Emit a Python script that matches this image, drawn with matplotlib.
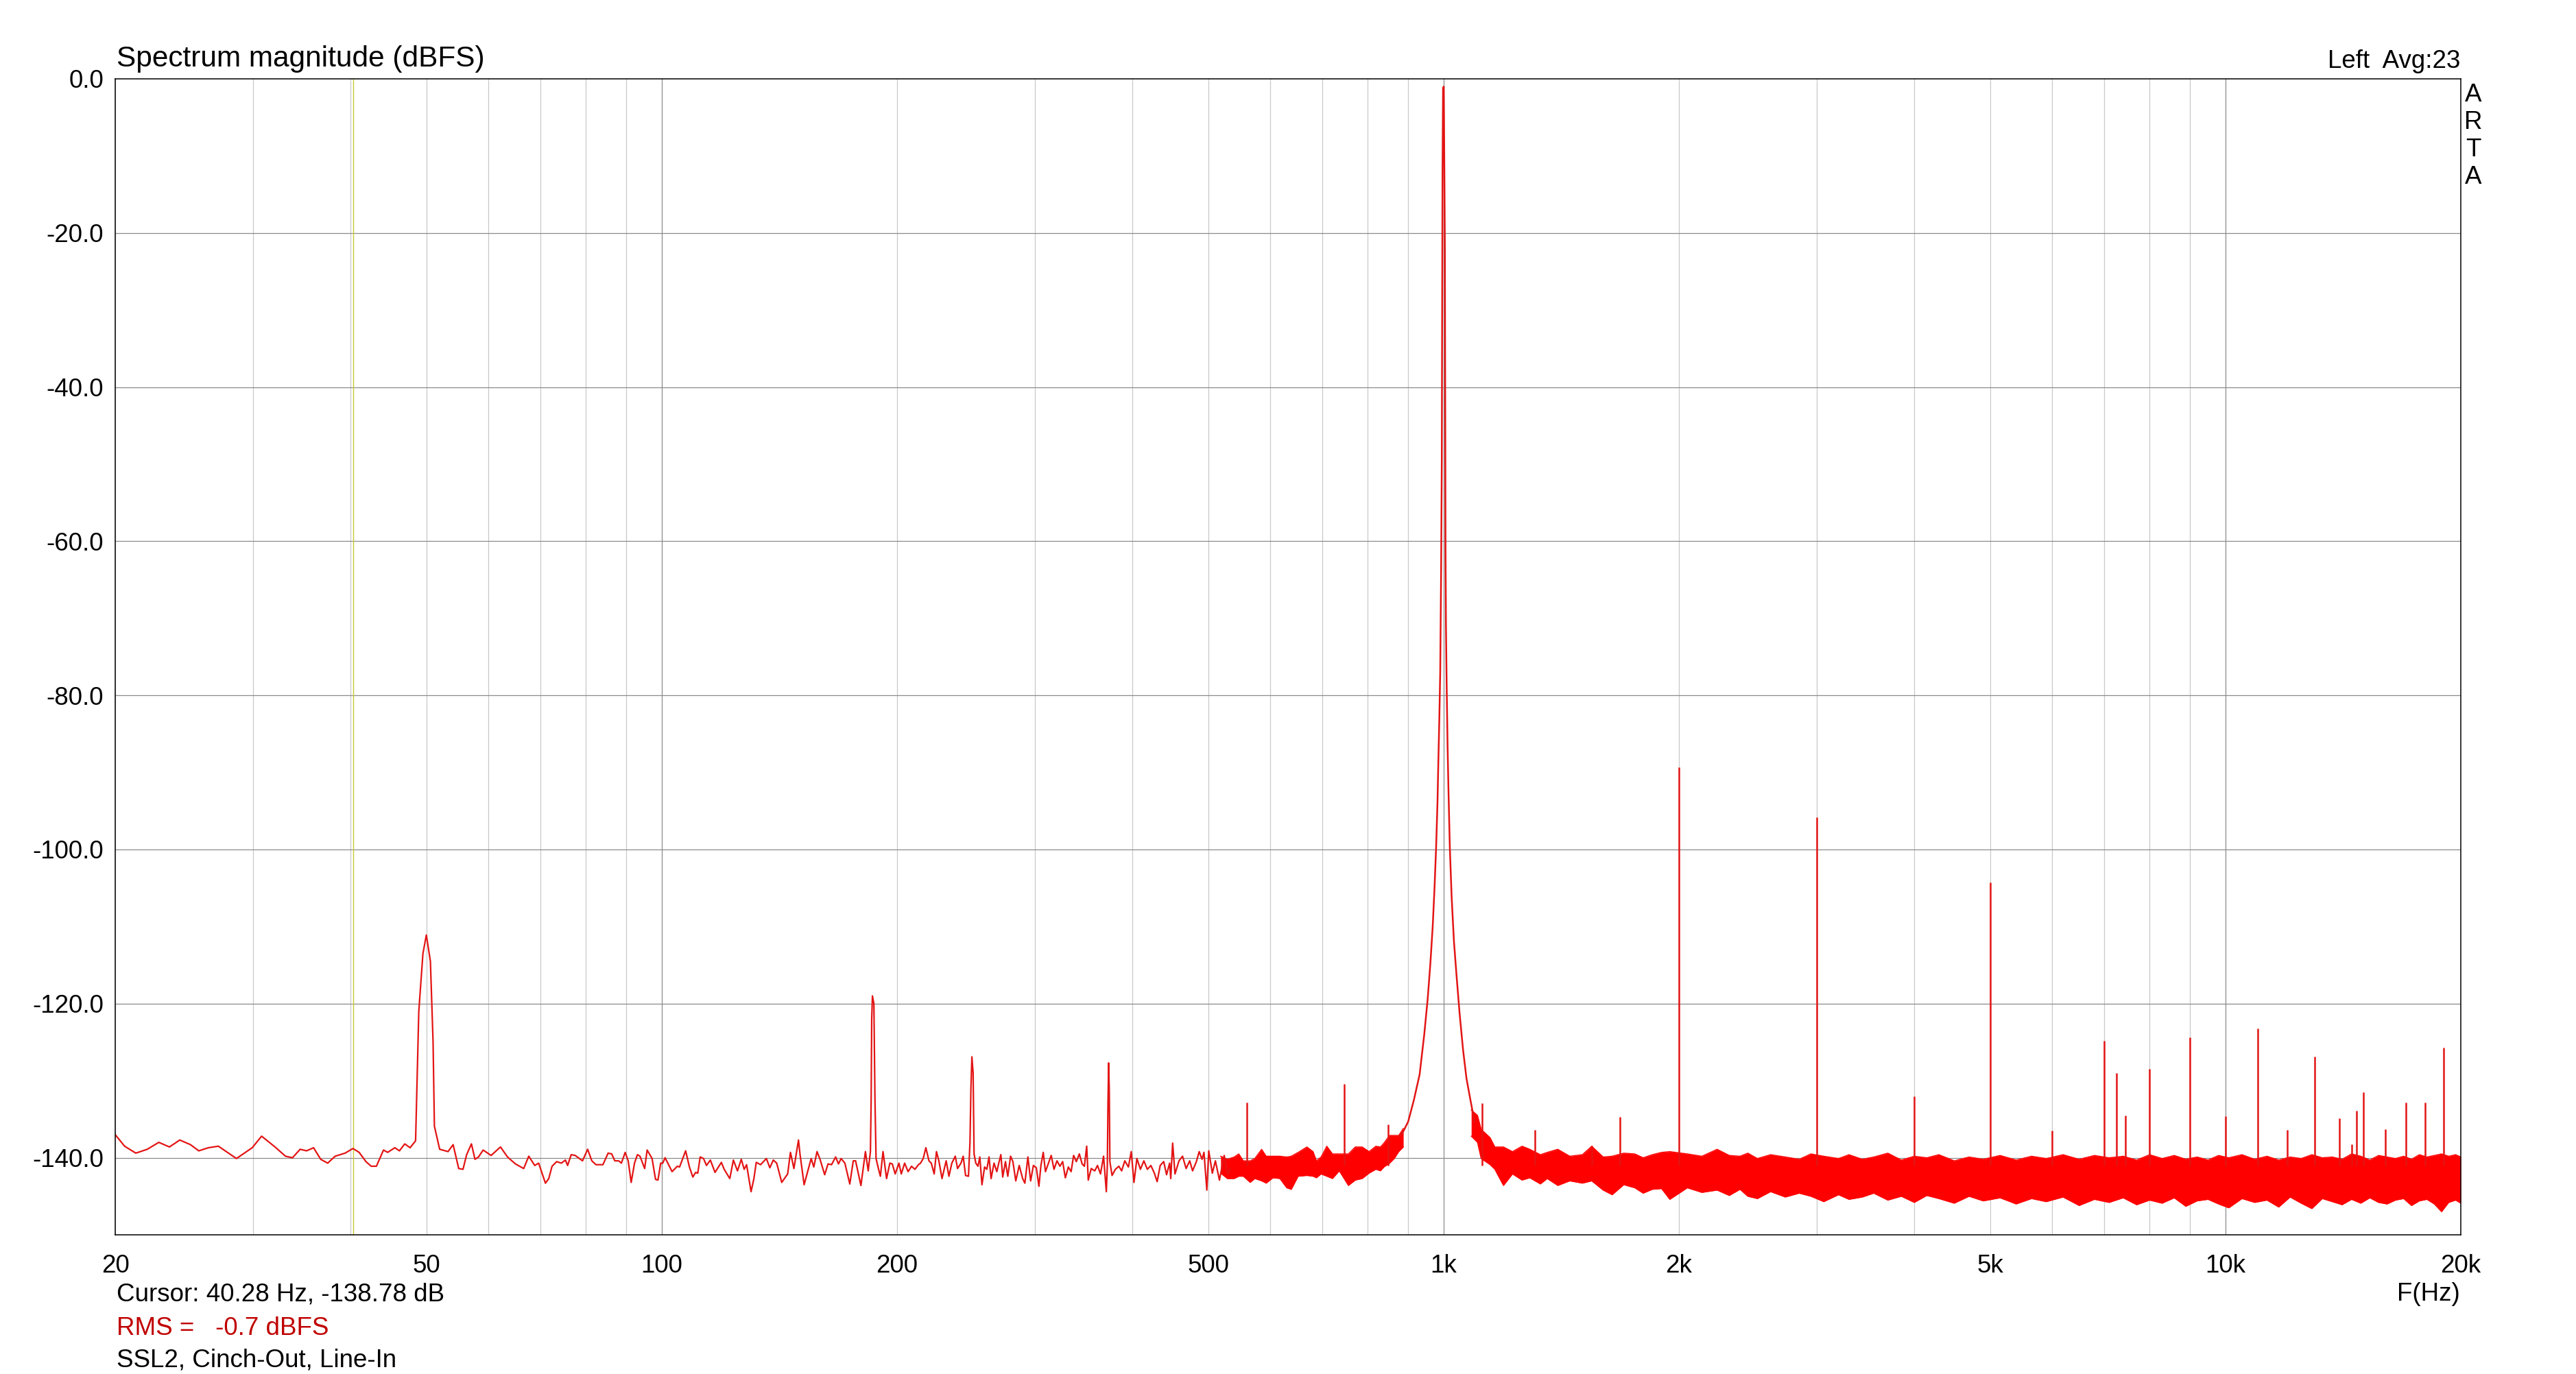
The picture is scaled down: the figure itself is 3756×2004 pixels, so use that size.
import numpy as np
import matplotlib.pyplot as plt

plt.rcParams['font.family'] = ['Liberation Sans', 'DejaVu Sans']
plt.rcParams['font.size'] = 26.5

# low frequency part of the spectrum, read vertex by vertex (Hz, dBFS)
low_freq = [20.0, 20.56, 21.25, 21.98, 22.74, 23.46, 24.19, 24.96, 25.58, 26.32,
            27.10, 28.58, 29.94, 30.78, 32.02, 33.02, 33.71, 34.48, 35.14, 35.87,
            36.63, 37.39, 38.22, 39.36, 40.28, 41.02, 41.85, 42.50, 43.16, 44.07,
            44.62, 45.57, 46.19, 46.92, 47.66, 48.44, 48.9, 49.5, 50.0, 50.6,
            51.0, 51.2, 52.0, 53.3, 54.1, 55.0, 55.7, 56.3, 57.1, 57.7,
            58.3, 59.1, 60.5, 62.2, 63.5, 65.0, 66.6, 67.6, 68.8, 69.6,
            71.0, 71.7, 72.4, 73.4, 74.4, 75.3, 75.8, 76.6, 77.5, 79.2,
            80.4, 81.4, 82.4, 84.1, 85.4, 86.3, 87.1, 88.1, 88.8, 89.8,
            90.6, 91.4, 92.3, 93.1, 93.8, 95.1, 95.8, 97.2, 98.2, 98.9,
            99.7, 100.3, 101.0, 103.1, 104.7, 105.4, 107.3, 108.5, 109.6, 110.5,
            111.2, 112.0, 113.1, 114.1, 115.4, 117.0, 119.2, 120.2, 122.2, 123.5,
            125.0, 126.4, 127.5, 128.4, 130.1, 131.2, 132.1, 133.8, 136.1, 137.5,
            138.9, 140.3, 142.4, 144.9, 146.1, 147.6, 149.6, 150.3, 152.1, 153.5,
            155.3, 156.5, 158.0, 159.4, 161.6, 163.2, 164.9, 166.9, 168.3, 169.6,
            171.5, 174.0, 175.8, 177.0, 179.8, 182.2, 183.7, 184.9, 185.3, 185.6,
            186.0, 186.8, 187.4, 188.0, 189.3, 190.4, 191.9, 193.9, 195.8, 197.2,
            198.9, 201.1, 202.5, 204.5, 206.6, 208.7, 210.8, 213.0, 214.3, 216.0,
            217.7, 219.7, 221.2, 223.1, 224.6, 226.2, 228.3, 231.1, 233.0, 235.0,
            237.4, 239.0, 241.4, 243.0, 244.7, 246.8, 247.9, 248.6, 249.3, 250.2,
            250.9, 252.2, 253.8, 255.2, 256.8, 258.8, 260.5, 262.2, 263.8, 266.1,
            268.3, 269.7, 271.5, 273.0, 275.2, 277.1, 279.4, 281.3, 283.7, 286.6,
            289.5, 291.4, 294.0, 296.4, 298.8, 301.4, 303.7, 305.5, 307.6, 309.6,
            312.4, 314.9, 317.5, 320.3, 323.1, 325.7, 328.3, 331.2, 333.9, 336.4,
            339.1, 342.1, 344.9, 347.2, 349.6, 351.2, 354.3, 358.0, 360.9, 364.1,
            367.4, 370.4, 371.5, 372.2, 372.9, 373.6, 374.3, 376.7, 380.4, 384.3,
            387.5, 391.1, 395.3, 398.6, 401.8, 405.3, 409.5, 413.7, 418.0, 422.3,
            426.7, 430.2, 434.1, 438.6, 442.3, 446.3, 447.8, 450.3, 453.4, 458.8,
            463.6, 468.5, 473.5, 477.5, 482.9, 486.9, 491.0, 493.8, 498.0, 500.8,
            506.1, 510.7, 516.8, 524.1, 529.7, 533.4]
low_db = [-137.0, -138.5, -139.4, -138.9, -138.0, -138.6, -137.7, -138.3, -139.1, -138.7,
          -138.5, -140.1, -138.7, -137.2, -138.6, -139.8, -140.0, -138.9, -139.1, -138.7,
          -140.2, -140.7, -139.8, -139.4, -138.8, -139.3, -140.5, -141.1, -141.1, -139.0,
          -139.3, -138.7, -139.1, -138.2, -138.7, -137.8, -121.0, -113.5, -111.1, -114.5,
          -125.0, -135.9, -138.9, -139.2, -138.3, -141.4, -141.5, -139.6, -138.2, -140.2,
          -139.9, -139.0, -139.7, -138.6, -139.9, -140.8, -141.4, -139.8, -141.0, -140.7,
          -143.3, -142.7, -141.1, -140.5, -140.7, -140.3, -141.0, -139.6, -139.7, -140.4,
          -138.9, -140.4, -140.9, -140.9, -139.4, -139.5, -140.4, -140.4, -140.7, -139.3,
          -140.4, -143.2, -140.7, -139.6, -139.8, -141.4, -139.0, -140.1, -142.8, -142.9,
          -140.7, -140.7, -140.0, -141.8, -141.1, -141.2, -139.1, -141.2, -142.5, -141.9,
          -142.0, -139.9, -140.1, -141.0, -140.3, -141.9, -140.6, -141.5, -142.7, -140.3,
          -141.7, -140.2, -141.5, -140.9, -144.4, -142.7, -140.6, -140.9, -140.1, -141.3,
          -140.3, -140.7, -143.2, -142.1, -139.3, -141.4, -137.7, -139.6, -143.5, -142.0,
          -140.1, -141.2, -139.2, -140.2, -142.2, -140.8, -140.9, -139.9, -140.8, -140.1,
          -140.7, -143.4, -140.4, -140.4, -143.6, -139.2, -141.7, -139.2, -132.5, -122.0,
          -119.0, -120.0, -132.6, -140.1, -141.4, -142.4, -139.2, -142.7, -140.7, -140.8,
          -142.1, -140.7, -142.1, -140.7, -141.8, -141.1, -141.5, -140.9, -140.7, -140.1,
          -138.7, -140.4, -140.7, -142.1, -139.2, -140.4, -142.7, -140.4, -142.4, -140.7,
          -139.8, -141.4, -140.7, -139.8, -142.3, -142.4, -138.0, -131.0, -126.9, -129.0,
          -139.5, -140.7, -141.1, -139.9, -143.5, -141.2, -141.5, -139.9, -142.7, -140.7,
          -141.8, -140.8, -139.6, -142.5, -140.5, -142.4, -139.8, -140.5, -143.0, -141.0,
          -142.7, -143.3, -139.9, -143.0, -141.0, -141.3, -143.7, -141.0, -139.3, -141.8,
          -140.7, -139.7, -141.5, -140.4, -141.1, -140.5, -142.6, -141.2, -141.8, -139.7,
          -140.5, -139.5, -140.8, -141.1, -138.5, -142.9, -141.4, -141.7, -141.0, -142.1,
          -139.8, -144.4, -141.0, -133.0, -127.7, -131.0, -140.5, -142.3, -141.5, -141.1,
          -141.7, -140.4, -141.2, -139.2, -143.2, -140.1, -141.5, -140.4, -141.5, -141.0,
          -142.0, -143.1, -141.0, -140.5, -142.2, -140.7, -142.7, -138.1, -142.1, -140.4,
          -139.8, -141.4, -140.4, -141.7, -140.5, -139.2, -140.2, -139.3, -144.2, -139.1,
          -142.0, -140.4, -142.9, -139.7, -142.1, -141.5]

# dense noise floor 519..888 Hz: upper and lower edge of the trace
band_a_freq = [518.7, 529.0, 539.8, 547.1, 554.5, 565.8, 573.5, 585.2, 593.1, 605.2,
               617.5, 630.1, 638.6, 651.7, 668.6, 680.9, 687.8, 697.1, 709.0, 721.0,
               735.6, 755.6, 771.0, 786.9, 802.9, 819.3, 830.4, 838.8, 853.2, 864.8,
               876.4, 888.2]
band_a_hi = [-139.8, -140.2, -139.9, -139.5, -140.4, -140.4, -140.1, -138.9, -139.8, -139.8,
             -139.8, -139.9, -139.8, -139.3, -138.6, -139.2, -140.4, -139.9, -138.5, -139.5,
             -139.5, -139.5, -138.6, -138.6, -139.2, -138.5, -138.6, -138.1, -137.1, -137.1,
             -137.1, -136.2]
band_a_lo = [-142.0, -142.7, -142.7, -142.4, -142.4, -143.2, -142.7, -143.0, -143.3, -142.6,
             -142.7, -143.9, -144.1, -142.4, -142.3, -142.4, -142.6, -142.1, -142.4, -142.7,
             -141.7, -143.6, -142.9, -142.7, -142.0, -141.5, -141.7, -141.2, -140.7, -140.1,
             -139.2, -138.6]

# 1 kHz test tone and its skirts
tone_freq = [877.2, 888.0, 901.1, 916.3, 931.9, 944.7, 954.3, 962.0, 968.5, 973.7,
             978.3, 982.2, 984.8, 987.6, 990.2, 992.8, 994.8, 996.9, 998.5, 1000.6,
             1002.4, 1003.8, 1005.0, 1005.8, 1007.0, 1009.0, 1011.9, 1014.5, 1018.6, 1024.2,
             1031.0, 1039.4, 1048.4, 1059.1, 1069.8, 1082.3, 1095.5]
tone_db = [-137.2, -136.6, -135.3, -132.5, -129.2, -124.0, -119.4, -114.7, -110.0, -105.0,
           -99.7, -94.0, -88.5, -83.0, -77.0, -64.0, -49.6, -12.2, -1.2, -1.0,
           -12.0, -21.5, -45.4, -61.3, -70.7, -78.2, -86.6, -92.2, -99.7, -106.3,
           -111.9, -116.6, -121.3, -126.0, -129.7, -132.5, -135.3]

# dense noise floor 1.09 kHz .. 20 kHz: upper and lower edge of the band
band_b_freq = [1085, 1105, 1117, 1147, 1163, 1193, 1225, 1260, 1289, 1330,
               1357, 1400, 1450, 1505, 1547, 1600, 1643, 1700, 1756, 1800,
               1849, 1900, 1947, 2050, 2140, 2238, 2320, 2394, 2450, 2520,
               2620, 2736, 2850, 2950, 3064, 3200, 3300, 3432, 3550, 3700,
               3850, 4000, 4150, 4300, 4500, 4700, 4900, 5150, 5400, 5650,
               5900, 6200, 6500, 6800, 7100, 7400, 7700, 8000, 8300, 8600,
               8900, 9200, 9500, 9800, 10100, 10500, 10900, 11300, 11700, 12100,
               12500, 12900, 13300, 13700, 14100, 14500, 14900, 15300, 15700, 16100,
               16500, 16900, 17300, 17700, 18100, 18500, 18900, 19300, 19700, 20000]
band_b_hi = [-133.8, -134.5, -136.3, -137.4, -138.6, -138.6, -139.2, -138.5, -138.9, -139.6,
             -139.3, -138.9, -139.8, -139.6, -138.5, -139.9, -139.8, -139.4, -139.5, -140.0,
             -139.6, -139.3, -139.2, -139.5, -139.8, -138.9, -139.7, -139.8, -139.4, -140.1,
             -139.6, -139.9, -140.2, -139.5, -139.8, -140.1, -139.6, -140.2, -139.9, -139.4,
             -140.3, -139.8, -140.0, -139.6, -140.4, -139.9, -140.2, -139.7, -140.3, -139.8,
             -140.1, -139.6, -140.2, -139.7, -140.0, -139.8, -140.3, -139.6, -140.1, -139.7,
             -140.2, -139.9, -140.3, -139.7, -140.0, -139.6, -140.2, -139.8, -140.3, -139.9,
             -140.1, -139.6, -140.0, -139.9, -140.2, -139.5, -139.8, -140.3, -139.7, -139.9,
             -140.1, -139.8, -140.2, -139.6, -139.9, -139.7, -139.5, -139.8, -139.6, -139.9]
band_b_lo = [-137.2, -138.0, -140.1, -140.9, -141.5, -143.6, -142.1, -142.9, -142.6, -143.4,
             -142.7, -143.6, -143.0, -143.3, -143.0, -144.2, -144.8, -143.5, -143.9, -144.6,
             -144.1, -144.0, -145.4, -143.9, -144.5, -144.2, -144.9, -144.1, -145.0, -145.3,
             -144.4, -145.1, -144.6, -145.0, -145.7, -144.8, -145.4, -145.1, -144.6, -145.5,
             -145.0, -145.8, -144.9, -145.3, -145.9, -145.0, -145.6, -145.2, -146.0, -145.3,
             -145.7, -145.1, -146.2, -145.4, -145.8, -145.2, -146.1, -145.5, -145.9, -145.2,
             -146.3, -145.6, -145.4, -146.0, -146.5, -145.3, -145.8, -145.5, -146.4, -145.1,
             -145.9, -146.6, -145.3, -145.7, -146.1, -145.4, -145.9, -145.2, -145.8, -146.0,
             -145.5, -145.3, -146.2, -145.6, -145.4, -146.0, -147.0, -145.8, -145.5, -145.9]

# discrete spectral lines above the noise floor
spur_freq = [560, 746, 849, 1120, 1309, 1547, 1681, 2000, 3000, 4000,
             5000, 6000, 7000, 7250, 7450, 8000, 9000, 10000, 11000, 12000,
             13000, 14000, 14500, 14700, 15000, 16000, 17000, 18000, 19000]
spur_db = [-132.8, -130.4, -135.7, -132.9, -136.4, -138.4, -134.7, -89.3, -95.8, -132.0,
           -104.3, -136.5, -124.8, -129.0, -134.5, -128.5, -124.4, -134.6, -123.2, -136.4,
           -126.9, -134.9, -138.3, -133.9, -131.5, -136.3, -132.8, -132.8, -125.7]

cursor_freq = 40.28
y_ticks = [0, -20, -40, -60, -80, -100, -120, -140]
x_ticks = [20, 50, 100, 200, 500, 1000, 2000, 5000, 10000, 20000]
x_labels = ['20', '50', '100', '200', '500', '1k', '2k', '5k', '10k', '20k']
grid_dark = [100, 1000, 10000]
grid_light = [20, 30, 40, 50, 60, 70, 80, 90, 200, 300, 400, 500, 600, 700, 800, 900,
              2000, 3000, 4000, 5000, 6000, 7000, 8000, 9000]

W, H = 3756, 2004
fig = plt.figure(figsize=(W / 100, H / 100), dpi=100)
ax = fig.add_axes([168 / W, 1 - 1801 / H, (3588 - 168) / W, (1801 - 115) / H])

ax.set_xscale('log')
ax.set_xlim(20, 20000)
ax.set_ylim(-150, 0)

for f in grid_light:
    ax.axvline(f, color='#c8c8c8', lw=0.9, zorder=1)
for f in grid_dark:
    ax.axvline(f, color='#8a8a8a', lw=0.9, zorder=1)
for v in y_ticks[1:]:
    ax.axhline(v, color='#8a8a8a', lw=0.9, zorder=1)

# cursor
ax.axvline(cursor_freq, color='#c8c832', lw=1.0, zorder=2)

red = '#ff0000'
line_red = '#e31414'

# dense noise floor drawn as filled bands between the read edges
ax.fill_between(band_a_freq, band_a_lo, band_a_hi, color=red, lw=0, zorder=3)
ax.plot(band_a_freq, band_a_hi, color=red, lw=1.0, zorder=3)
ax.plot(band_a_freq, band_a_lo, color=red, lw=1.0, zorder=3)
ax.fill_between(band_b_freq, band_b_lo, band_b_hi, color=red, lw=0, zorder=3)
ax.plot(band_b_freq, band_b_hi, color=red, lw=1.0, zorder=3)
ax.plot(band_b_freq, band_b_lo, color=red, lw=1.0, zorder=3)

ax.vlines(spur_freq, -141.0, spur_db, color=line_red, lw=1.8, zorder=4)
ax.plot(low_freq, low_db, color=line_red, lw=1.6, zorder=4)
ax.plot(tone_freq, tone_db, color=line_red, lw=1.8, zorder=4)

ax.minorticks_off()
ax.set_xticks(x_ticks)
ax.set_xticklabels(x_labels)
ax.set_yticks(y_ticks)
ax.set_yticklabels([f'{v:.1f}' for v in y_ticks])
ax.tick_params(axis='both', length=0)
ax.tick_params(axis='y', pad=12)
ax.tick_params(axis='x', pad=20)
for s in ax.spines.values():
    s.set_linewidth(1.1)
    s.set_color('black')
    s.set_zorder(5)

fig.text(170 / W, 1 - 97 / H, 'Spectrum magnitude (dBFS)', ha='left', va='baseline', fontsize=30.5)
fig.text(3587 / W, 1 - 99 / H, 'Left  Avg:23', ha='right', va='baseline')
for i, ch in enumerate('ARTA'):
    fig.text(3606 / W, 1 - (148 + 40 * i) / H, ch, ha='center', va='baseline')
fig.text(3587 / W, 1 - 1897 / H, 'F(Hz)', ha='right', va='baseline')
fig.text(170 / W, 1 - 1897 / H, 'Cursor: 40.28 Hz, -138.78 dB', ha='left', va='baseline')
fig.text(170 / W, 1 - 1947 / H, 'RMS =   -0.7 dBFS', ha='left', va='baseline', color='#c00000')
fig.text(170 / W, 1 - 1993 / H, 'SSL2, Cinch-Out, Line-In', ha='left', va='baseline')

fig.savefig('out.png', dpi=100)
